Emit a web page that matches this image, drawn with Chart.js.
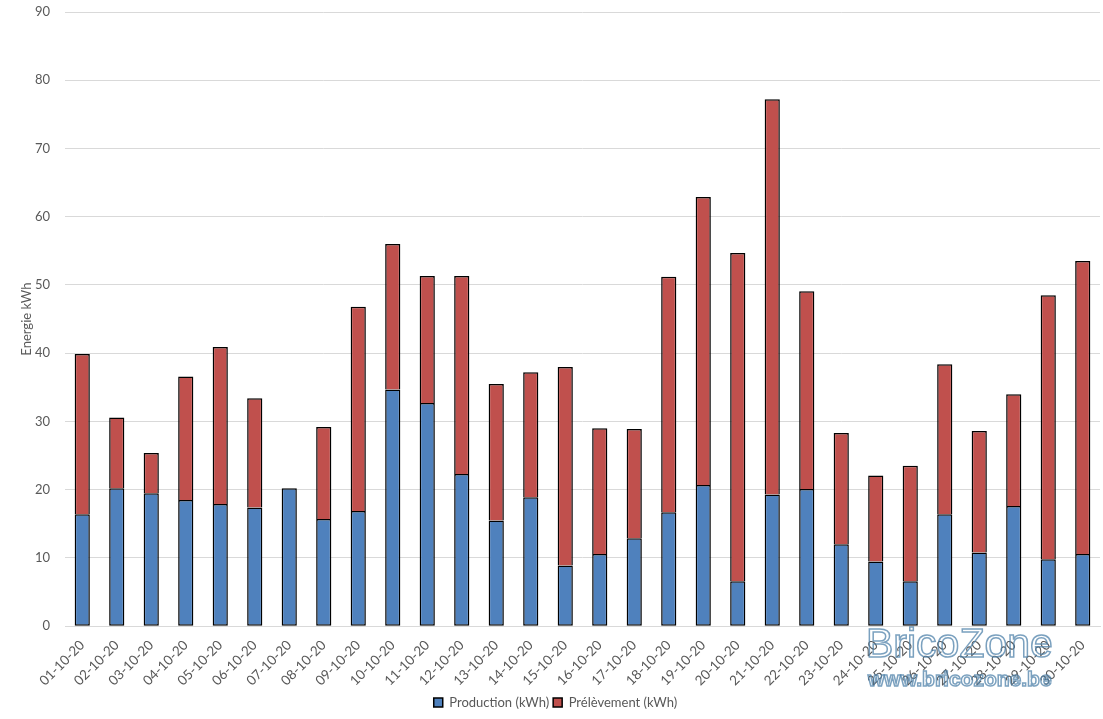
<!DOCTYPE html>
<html>
<head>
<meta charset="utf-8">
<script src="https://cdn.jsdelivr.net/npm/chart.js@4/dist/chart.umd.min.js"></script>
<style>
  html, body { margin: 0; padding: 0; background: #fff; }
  #wrap { width: 1103px; height: 719px; position: relative; }
</style>
</head>
<body>
<div id="wrap"><canvas id="chartEnergie"></canvas></div>
<script>
// --- donnÃ©es octobre 2020 ---
const jours = Array.from({ length: 30 }, (_, i) => String(i + 1).padStart(2, '0') + '-10-20');
const production = [16.4, 20.2, 19.5, 18.5, 17.9, 17.4, 20.2, 15.7, 16.9, 34.7,
                    32.7, 22.3, 15.5, 18.9, 8.9, 10.6, 12.9, 16.7, 20.7, 6.6,
                    19.3, 20.1, 12.0, 9.5, 6.6, 16.4, 10.8, 17.6, 9.8, 10.6];
const prelevement = [23.5, 10.4, 5.9, 18.1, 23.0, 16.0, 0, 13.5, 29.9, 21.3,
                     18.6, 29.0, 20.0, 18.3, 29.1, 18.4, 16.0, 34.5, 42.2, 48.1,
                     57.9, 29.0, 16.3, 12.6, 16.9, 22.0, 17.8, 16.4, 38.7, 42.9];

Chart.defaults.font.family = 'Lato, "Open Sans", sans-serif';
Chart.defaults.font.size = 13;
Chart.defaults.color = '#595959';

// filigrane
const watermark = {
    id: 'watermark',
    afterDraw(chart) {
        const c = chart.ctx;
        c.save();
        c.strokeStyle = 'rgba(79,129,170,0.75)';
        c.lineWidth = 1.5;
        c.textBaseline = 'alphabetic';
        c.font = '41px "Liberation Sans", Arial, sans-serif';
        c.strokeText('BricoZone', 866, 657);
        c.font = 'bold 21px "Liberation Sans", Arial, sans-serif';
        c.strokeText('www.bricozone.be', 868, 686);
        c.restore();
    }
};

const ctx = document.getElementById('chartEnergie').getContext('2d');

new Chart(ctx, {
    type: 'bar',
    data: {
        labels: jours,
        datasets: [{
            label: 'Production (kWh)',
            data: production,
            backgroundColor: '#4F81BD',
            borderColor: '#000000',
            borderWidth: 1.5,
            borderSkipped: false
        }, {
            label: 'Prélèvement (kWh)',
            data: prelevement,
            backgroundColor: '#C0504D',
            borderColor: '#000000',
            borderWidth: 1.5,
            borderSkipped: 'bottom'
        }]
    },
    options: {
        responsive: true,
        maintainAspectRatio: false,
        animation: false,
        datasets: { bar: { categoryPercentage: 1, barPercentage: 0.44 } },
        plugins: {
            legend: {
                position: 'bottom',
                labels: { boxWidth: 9, boxHeight: 9, padding: 4, color: '#595959' }
            },
            tooltip: { mode: 'index', intersect: false }
        },
        layout: { padding: { top: 12, right: 3, left: 11, bottom: 0 } },
        scales: {
            x: {
                stacked: true,
                grid: { display: false },
                border: { color: '#D9D9D9' },
                ticks: { maxRotation: 45, minRotation: 45, autoSkip: false, color: '#595959', font: { size: 13.5 } }
            },
            y: {
                stacked: true,
                min: 0,
                max: 90,
                afterFit(scale) { scale.paddingTop = 0; scale.width = 54; },
                ticks: { stepSize: 10, padding: 15, color: '#595959' },
                grid: { color: '#D9D9D9', drawTicks: false },
                border: { display: false },
                title: { display: true, text: 'Energie kWh', color: '#595959', font: { size: 13 }, padding: { top: 8, bottom: 0 } }
            }
        }
    },
    plugins: [watermark]
});
</script>
</body>
</html>
